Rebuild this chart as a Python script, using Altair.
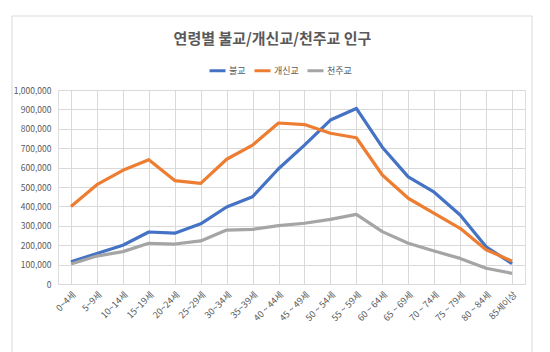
import altair as alt
import pandas as pd

categories = ["0~4세", "5~9세", "10~14세", "15~19세", "20~24세", "25~29세",
              "30~34세", "35~39세", "40 ~ 44세", "45 ~ 49세", "50 ~ 54세",
              "55 ~ 59세", "60 ~ 64세", "65 ~ 69세", "70 ~ 74세", "75 ~ 79세",
              "80 ~ 84세", "85세이상"]
series_names = ["불교", "개신교", "천주교"]
buddhism = [115000, 157000, 200000, 268000, 262000, 310000, 397000, 450000, 594000,
            716000, 845000, 905000, 705000, 552000, 473000, 356000, 192000, 105000]
protestant = [399000, 512000, 586000, 641000, 533000, 519000, 643000, 716000, 830000,
              822000, 777000, 754000, 562000, 442000, 364000, 287000, 177000, 118000]
catholic = [103000, 144000, 167000, 210000, 206000, 222000, 278000, 282000, 301000,
            313000, 333000, 359000, 270000, 210000, 170000, 132000, 81000, 55000]

rows = []
for name, vals in zip(series_names, [buddhism, protestant, catholic]):
    for c, v in zip(categories, vals):
        rows.append({"age": c, "series": name, "value": v})
df = pd.DataFrame(rows)

FONT = "Noto Sans CJK KR"
TXT = "#595959"
GRID = "#d9d9d9"

lines = alt.Chart(df).mark_line(strokeWidth=3.2, strokeJoin="round").encode(
    x=alt.X("age:N", sort=categories, title=None,
            scale=alt.Scale(type="point", padding=0.5),
            axis=alt.Axis(labelAngle=315, labelFontSize=9, labelColor=TXT,
                          labelFont=FONT, ticks=False, grid=True, gridColor=GRID,
                          domainColor=GRID, labelPadding=6)),
    y=alt.Y("value:Q", title=None,
            scale=alt.Scale(domain=[0, 1000000], nice=False),
            axis=alt.Axis(values=list(range(0, 1000001, 100000)), format=",.0f",
                          labelFontSize=8.5, labelColor=TXT, labelFont=FONT,
                          ticks=False, domain=False, gridColor=GRID, labelPadding=7)),
    color=alt.Color("series:N", sort=series_names,
                    scale=alt.Scale(domain=series_names,
                                    range=["#4472C4", "#ED7D31", "#A5A5A5"]),
                    legend=alt.Legend(title=None, orient="none", direction="horizontal",
                                      legendX=150, legendY=-29, symbolType="stroke",
                                      symbolSize=256, symbolStrokeWidth=3,
                                      labelFontSize=9, labelColor=TXT, labelFont=FONT,
                                      columnPadding=2, labelOffset=2)),
    detail="series:N",
)

frame = alt.Chart(alt.Data(values=[{}])).mark_rect(
    fill=None, stroke="#d9d9d9", strokeWidth=1
).encode(
    x=alt.value(-46), x2=alt.value(474), y=alt.value(-74), y2=alt.value(275)
)

chart = alt.layer(frame, lines).properties(
    width=467, height=194,
    autosize=alt.AutoSizeParams(type="none"),
    padding={"left": 58, "top": 90, "right": 25, "bottom": 68},
    title=alt.TitleParams("연령별 불교/개신교/천주교 인구", anchor="middle", dx=-19,
                          frame="group", offset=-31, fontSize=15, font=FONT,
                          fontWeight="bold", color=TXT),
).configure_view(stroke=None).configure(background="white")

chart.save("out.html", embed_options={"renderer": "svg", "actions": False})
